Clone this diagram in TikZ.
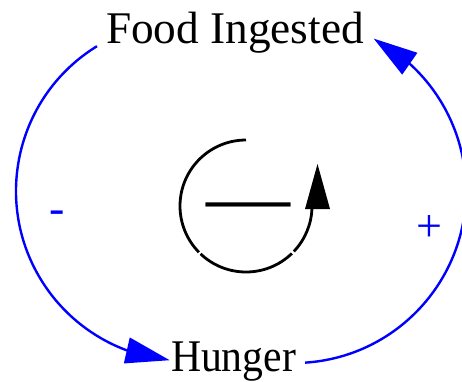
\documentclass[tikz,border=0pt]{standalone}
\usepackage{fontspec}
\setmainfont{Liberation Serif}
\usetikzlibrary{arrows.meta,bending}
\begin{document}
\begin{tikzpicture}[x=1pt,y=-1pt,
  lbl/.style={font=\fontsize{45.3}{50}\selectfont, inner sep=0pt, anchor=base},
  link/.style={blue, line width=2.4pt, -{Triangle[length=44pt,width=26pt,flex]}},
  pol/.style={blue, font=\fontsize{46}{50}\selectfont, inner sep=0pt, anchor=base},
  loopline/.style={line width=2.8pt}]
\useasboundingbox (0,0) rectangle (462,381);
% variables
\node[lbl] (food) at (235,43.3) {Food Ingested};
\node[lbl] (hunger) at (233.5,371.7) {\scalebox{0.92}[1]{Hunger}};
% arc centres
\coordinate (lc) at (186,191);
\coordinate (rc) at (294,191);
\coordinate (oc) at (246,206);
% links
\draw[link] ([shift={(-121.6:170)}]lc) arc[start angle=-121.6, end angle=-264.5, radius=170];
\draw[link] ([shift={(86.3:172)}]rc) arc[start angle=86.3, end angle=-62.4, radius=172];
% polarities
\node[pol] (lsign) at (57.5,223.7) {-};
\node[pol] (psign) at (429,241.5) {+};
% loop symbol
\draw[loopline] ([shift={(-90:66)}]oc) arc[start angle=-90, end angle=-224.5, radius=66];
\draw[loopline] ([shift={(-226.5:66)}]oc) arc[start angle=-226.5, end angle=-314, radius=66];
\draw[loopline] ([shift={(-316.5:66)}]oc) arc[start angle=-316.5, end angle=-358, radius=66];
\fill (305,209) -- (330,209) -- (317.5,164) -- cycle;
\node[font=\fontsize{84}{90}\selectfont, inner sep=0pt, anchor=base] (loopsign) at (248,224.8) {—};
\end{tikzpicture}
\end{document}
